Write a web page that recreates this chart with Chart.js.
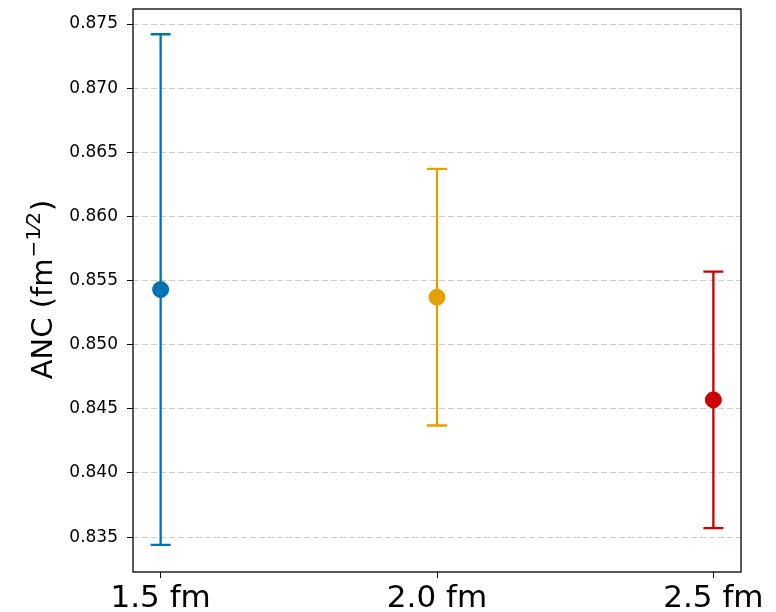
<!DOCTYPE html>
<html>
<head>
<meta charset="utf-8">
<script src="https://cdn.jsdelivr.net/npm/chart.js@4/dist/chart.umd.min.js"></script>
<style>
  html, body { margin: 0; padding: 0; background: #fff; }
  #wrap { width: 776px; height: 612px; }
</style>
</head>
<body>
<div id="wrap"><canvas id="c" width="776" height="612"></canvas></div>
<script>
// values
var radii = [1.5, 2.0, 2.5];
var radiusLabels = ['1.5 fm', '2.0 fm', '2.5 fm'];
var anc = [0.8543, 0.8537, 0.8457];
var ancErr = [0.0199, 0.0100, 0.0100];
var pointColors = ['#0072B2', '#E69F00', '#CC0000'];
var yTicks = [0.835, 0.840, 0.845, 0.850, 0.855, 0.860, 0.865, 0.870, 0.875];

var FONT = "'DejaVu Sans', sans-serif";

// error bars, drawn under the markers
var errorBars = {
	id: 'errorBars',
	beforeDatasetsDraw: function(chart) {
		var ctx = chart.ctx;
		var xs = chart.scales.x, ys = chart.scales.y;
		ctx.save();
		ctx.lineWidth = 2.3;
		for (var i = 0; i < anc.length; i++) {
			var x = xs.getPixelForValue(radii[i]);
			var top = ys.getPixelForValue(anc[i] + ancErr[i]);
			var bot = ys.getPixelForValue(anc[i] - ancErr[i]);
			ctx.strokeStyle = pointColors[i];
			ctx.beginPath();
			ctx.moveTo(x, top); ctx.lineTo(x, bot);
			ctx.moveTo(x - 10, top); ctx.lineTo(x + 10, top);
			ctx.moveTo(x - 10, bot); ctx.lineTo(x + 10, bot);
			ctx.stroke();
		}
		ctx.restore();
	}
};

// black frame and the rotated y title with a superscript
var frameAndTitle = {
	id: 'frameAndTitle',
	afterDraw: function(chart) {
		var ctx = chart.ctx, a = chart.chartArea;
		ctx.save();
		ctx.strokeStyle = '#000';
		ctx.lineWidth = 1.3;
		ctx.strokeRect(a.left, a.top, a.right - a.left, a.bottom - a.top);

		var main1 = 'ANC (fm', sup = '\u22121\u20442', main2 = ')';
		ctx.translate(44, (a.top + a.bottom) / 2);
		ctx.rotate(-Math.PI / 2);
		ctx.fillStyle = '#000';
		ctx.textBaseline = 'middle';
		ctx.font = '29px ' + FONT;
		var w1 = ctx.measureText(main1).width, w3 = ctx.measureText(main2).width;
		ctx.font = '20px ' + FONT;
		var w2 = ctx.measureText(sup).width;
		var x0 = -(w1 + w2 + w3) / 2;
		ctx.textAlign = 'left';
		ctx.font = '29px ' + FONT;
		ctx.fillText(main1, x0, 0);
		ctx.font = '20px ' + FONT;
		ctx.fillText(sup, x0 + w1 + 1, -9);
		ctx.font = '29px ' + FONT;
		ctx.fillText(main2, x0 + w1 + w2 + 2, 0);
		ctx.restore();
	}
};

new Chart(document.getElementById('c'), {
	type: 'scatter',
	data: {
		datasets: [{
			data: radii.map(function(r, i) { return { x: r, y: anc[i] }; }),
			pointBackgroundColor: pointColors,
			pointBorderColor: pointColors,
			pointRadius: 8,
			pointHoverRadius: 8,
			showLine: false
		}]
	},
	options: {
		responsive: false,
		animation: false,
		events: [],
		layout: { padding: { top: 5, right: 35, left: 0, bottom: 0 } },
		plugins: { legend: { display: false }, tooltip: { enabled: false } },
		scales: {
			x: {
				type: 'linear',
				min: 1.45, max: 2.55,
				afterBuildTicks: function(s) { s.ticks = radii.map(function(v) { return { value: v }; }); },
				afterFit: function(s) { s.height = 40; },
				grid: { drawOnChartArea: false, drawTicks: true, tickLength: 6, tickColor: '#000', tickWidth: 1 },
				border: { display: false },
				ticks: {
					autoSkip: false, maxRotation: 0, padding: 2,
					color: '#000',
					font: { family: FONT, size: 31 },
					callback: function(v) { return radiusLabels[radii.indexOf(v)]; }
				}
			},
			y: {
				min: 0.83228, max: 0.87617,
				afterBuildTicks: function(s) { s.ticks = yTicks.map(function(v) { return { value: v }; }); },
				afterFit: function(s) { s.width = 133; s.paddingTop = 0; s.paddingBottom = 0; },
				grid: {
					color: '#cccccc', lineWidth: 1,
					drawTicks: true, tickLength: 6, tickColor: '#000', tickWidth: 1, tickBorderDash: []
				},
				border: { display: false, dash: [6, 3] },
				ticks: {
					padding: 9, color: '#000',
					font: { family: FONT, size: 17 },
					callback: function(v) { return v.toFixed(3); }
				}
			}
		}
	},
	plugins: [errorBars, frameAndTitle]
});
</script>
</body>
</html>
